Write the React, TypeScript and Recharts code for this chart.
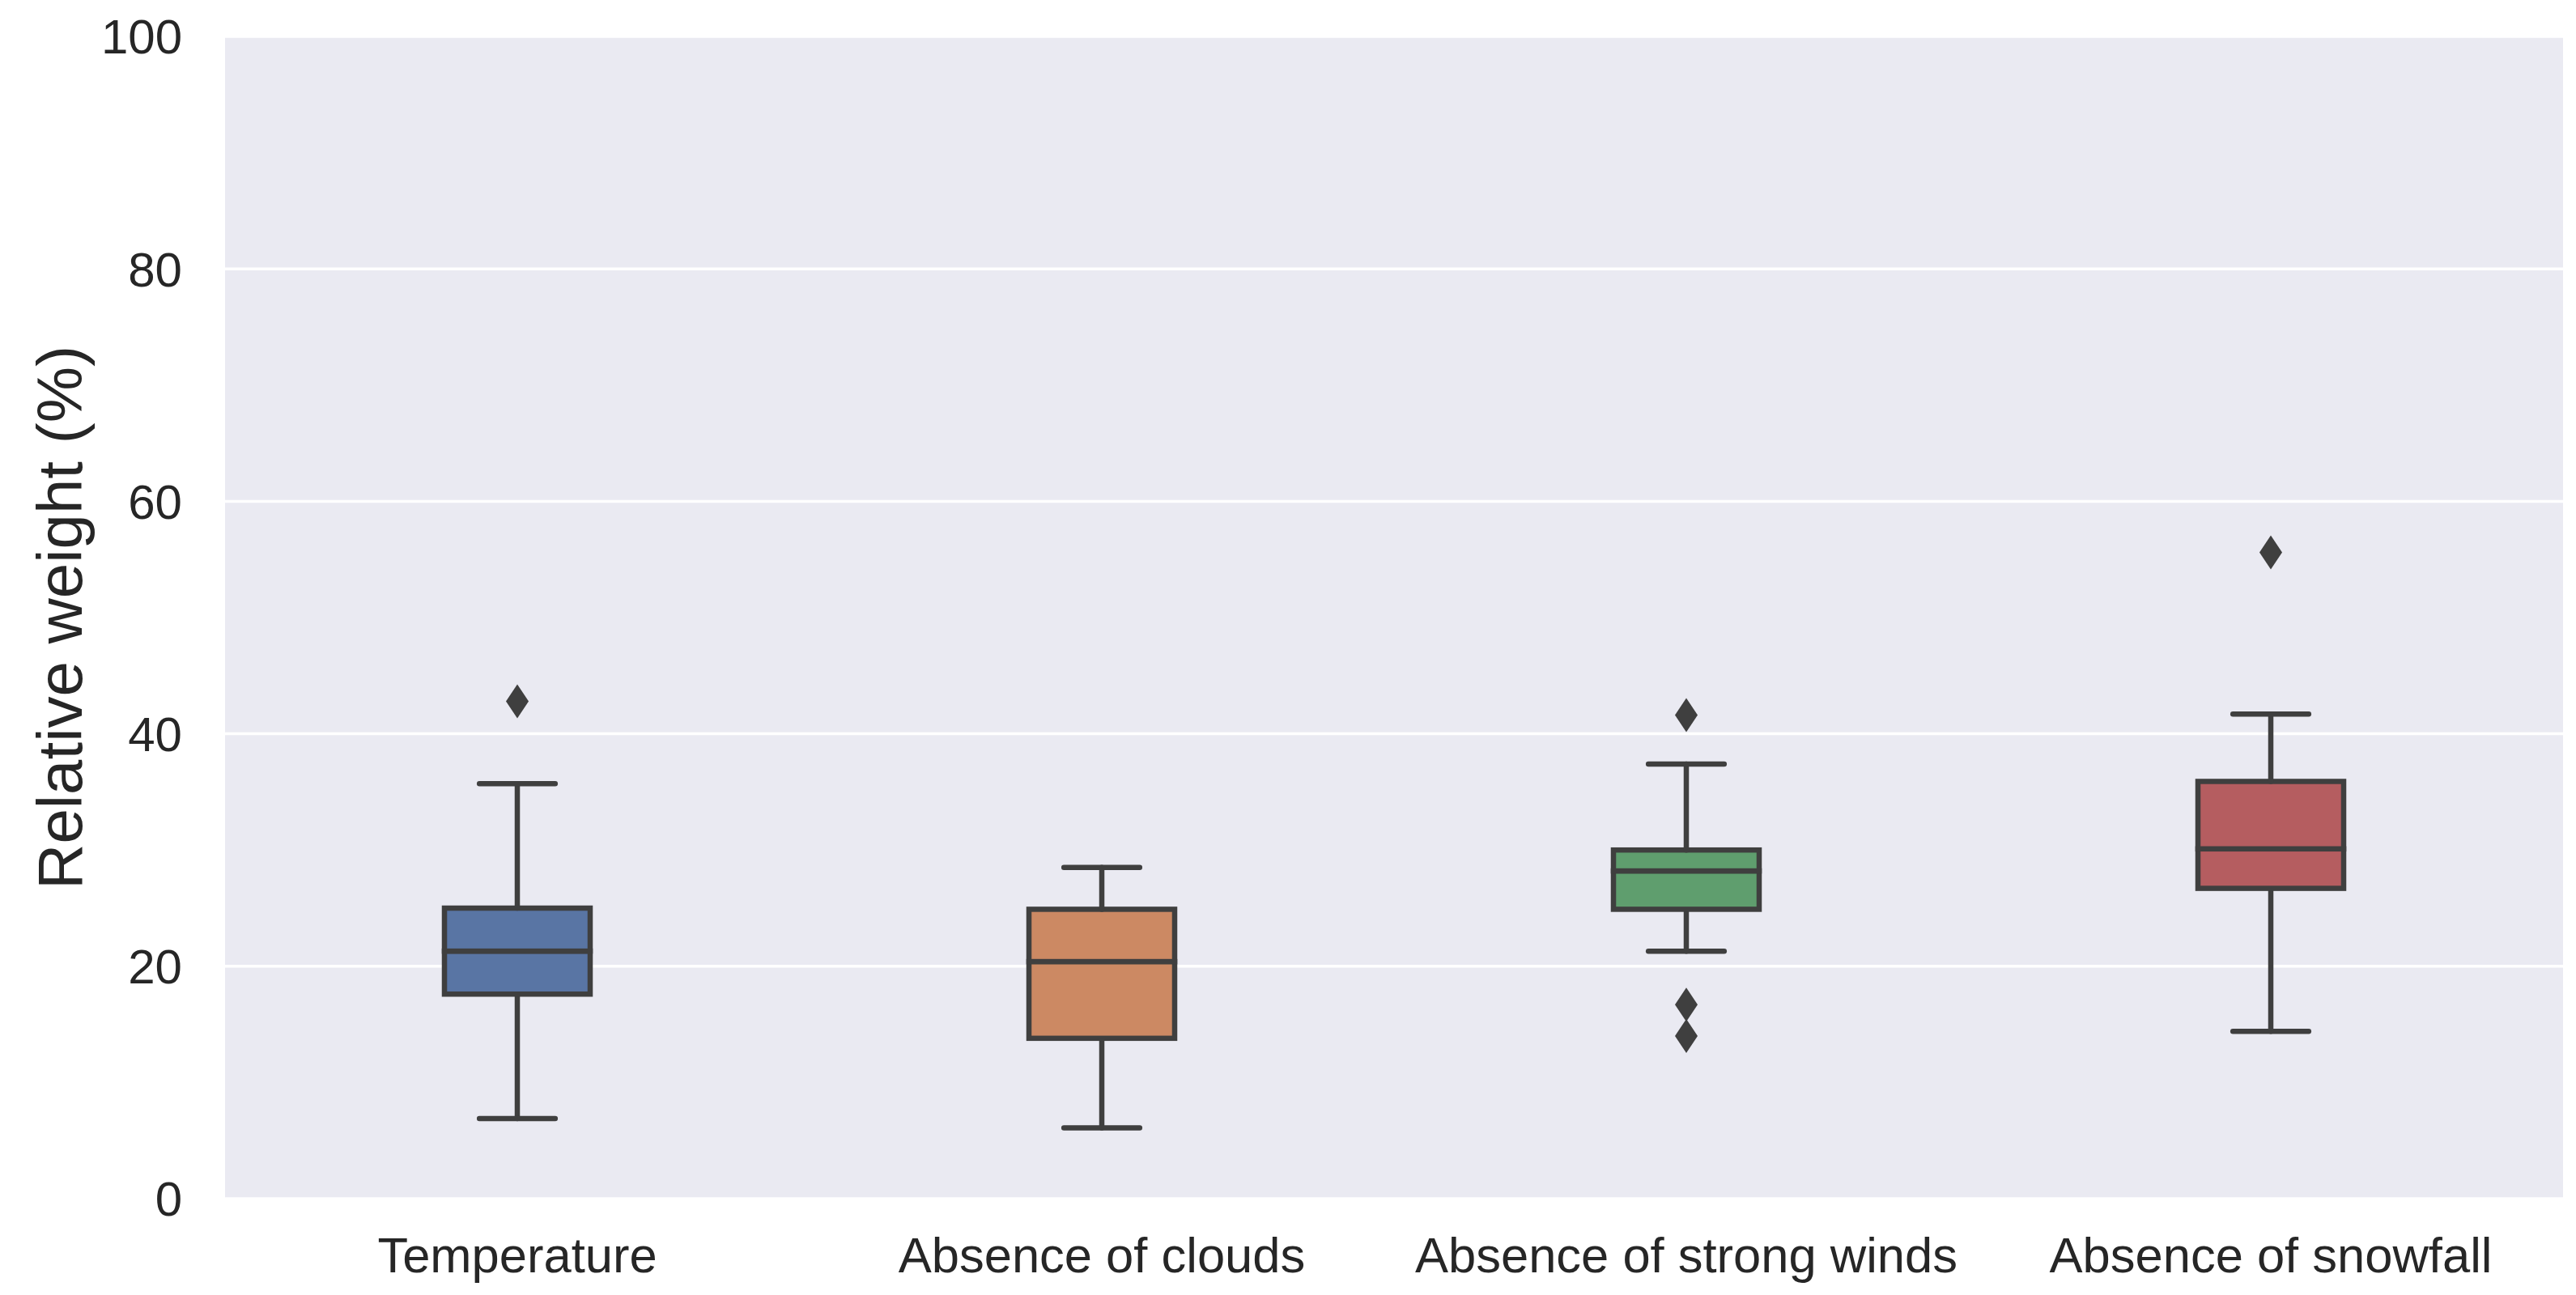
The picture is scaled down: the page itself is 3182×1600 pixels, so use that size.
import { ComposedChart, Bar, Line, XAxis, YAxis, CartesianGrid } from 'recharts'

const categories = ['Temperature', 'Absence of clouds', 'Absence of strong winds', 'Absence of snowfall']
const whiskerLow = [6.9, 6.1, 21.3, 14.4]
const q1 = [17.6, 13.8, 24.9, 26.7]
const median = [21.3, 20.4, 28.2, 30.1]
const q3 = [25.0, 24.9, 30.0, 35.9]
const whiskerHigh = [35.7, 28.5, 37.4, 41.7]
const outliers = [[42.8], [], [41.6, 16.7, 14.0], [55.6]]
const boxColors = ['#5975a4', '#cc8963', '#5f9e6e', '#b55d60']
const yTicks = [0, 20, 40, 60, 80, 100]

const data = categories.map((name, i) => ({
  name,
  base: whiskerLow[i],
  lowWhisker: q1[i] - whiskerLow[i],
  lowBox: median[i] - q1[i],
  highBox: q3[i] - median[i],
  highWhisker: whiskerHigh[i] - q3[i],
  out0: outliers[i][0] ?? null,
  out1: outliers[i][1] ?? null,
  out2: outliers[i][2] ?? null,
}))

const FONT = 'Liberation Sans, Arial, sans-serif'
const INK = '#262626'
const LINE = '#3f3f3f'
const LW = 6.5

const Empty = () => <g />

function LowWhisker(p: any) {
  const cx = p.x + p.width / 2
  const cap = p.width * 0.26
  const bottom = p.y + p.height
  return (
    <g stroke={LINE} strokeWidth={LW} strokeLinecap="round">
      <line x1={cx} x2={cx} y1={p.y} y2={bottom} />
      <line x1={cx - cap} x2={cx + cap} y1={bottom} y2={bottom} />
    </g>
  )
}

function HighWhisker(p: any) {
  const cx = p.x + p.width / 2
  const cap = p.width * 0.26
  return (
    <g stroke={LINE} strokeWidth={LW} strokeLinecap="round">
      <line x1={cx} x2={cx} y1={p.y} y2={p.y + p.height} />
      <line x1={cx - cap} x2={cx + cap} y1={p.y} y2={p.y} />
    </g>
  )
}

function BoxPart(p: any) {
  return (
    <rect x={p.x} y={p.y} width={p.width} height={p.height}
      fill={boxColors[p.index]} stroke={LINE} strokeWidth={LW} />
  )
}

function Diamond(p: any) {
  if (p.value == null || p.cy == null) return <g key={p.key} />
  const { cx, cy } = p
  return (
    <polygon key={p.key} fill={LINE}
      points={`${cx},${cy - 21} ${cx + 14},${cy} ${cx},${cy + 21} ${cx - 14},${cy}`} />
  )
}

export default function App() {
  return (
    <div style={{ position: 'absolute', left: 0, top: 0, background: '#fff' }}>
      <ComposedChart width={3182} height={1600} data={data}
        margin={{ top: 45, right: 16, bottom: 19, left: 0 }}>
        <CartesianGrid vertical={false} fill="#eaeaf2" stroke="#ffffff" strokeWidth={3.5} />
        <XAxis dataKey="name" height={100} interval={0} axisLine={false} tickLine={false}
          tickSize={0} tickMargin={47}
          tick={{ fill: INK, fontSize: 61.5, fontFamily: FONT }} />
        <YAxis type="number" domain={[0, 100]} ticks={yTicks} width={278}
          axisLine={false} tickLine={false} tickSize={0} tickMargin={53}
          tick={{ fill: INK, fontSize: 60, fontFamily: FONT }}
          label={{ value: 'Relative weight (%)', angle: -90, position: 'insideLeft', offset: 73,
            style: { textAnchor: 'middle', fontSize: 78, fill: INK, fontFamily: FONT } }} />
        <Bar dataKey="base" stackId="box" barSize={180} shape={Empty} isAnimationActive={false} />
        <Bar dataKey="lowWhisker" stackId="box" barSize={180} shape={LowWhisker} isAnimationActive={false} />
        <Bar dataKey="lowBox" stackId="box" barSize={180} shape={BoxPart} isAnimationActive={false} />
        <Bar dataKey="highBox" stackId="box" barSize={180} shape={BoxPart} isAnimationActive={false} />
        <Bar dataKey="highWhisker" stackId="box" barSize={180} shape={HighWhisker} isAnimationActive={false} />
        <Line dataKey="out0" stroke="none" dot={Diamond} activeDot={false} isAnimationActive={false} />
        <Line dataKey="out1" stroke="none" dot={Diamond} activeDot={false} isAnimationActive={false} />
        <Line dataKey="out2" stroke="none" dot={Diamond} activeDot={false} isAnimationActive={false} />
      </ComposedChart>
    </div>
  )
}
